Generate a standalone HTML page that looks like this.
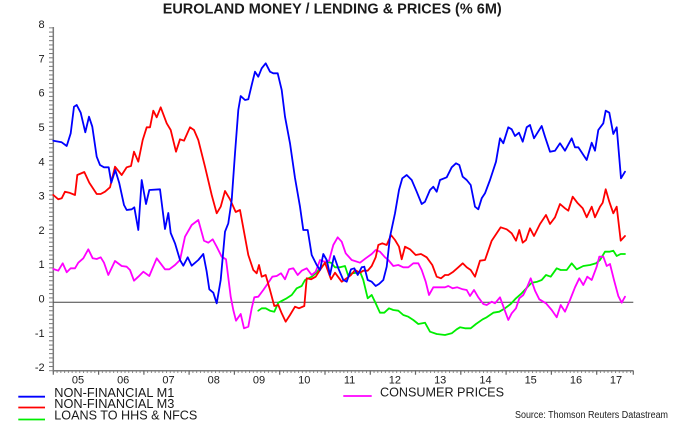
<!DOCTYPE html>
<html>
<head>
<meta charset="utf-8">
<style>
html,body{margin:0;padding:0;background:#fff;}
svg{display:block;}
text{font-family:"Liberation Sans",Arial,sans-serif;fill:#1a1a1a;}
</style>
</head>
<body>
<svg width="680" height="425" viewBox="0 0 680 425" xmlns="http://www.w3.org/2000/svg">
<defs>
<pattern id="yt" x="0" y="27.3" width="10" height="4.2875" patternUnits="userSpaceOnUse"><rect x="0" y="0" width="10" height="1" fill="#777"/></pattern>
<pattern id="xt" x="52.8" y="0" width="3.7733" height="10" patternUnits="userSpaceOnUse"><rect x="0" y="0" width="1" height="10" fill="#888"/></pattern>
</defs>
<rect width="680" height="425" fill="#fff"/>

<!-- Title -->
<text x="162.7" y="13.5" font-size="14.5" font-weight="bold" textLength="339" lengthAdjust="spacingAndGlyphs">EUROLAND MONEY / LENDING &amp; PRICES (% 6M)</text>

<!-- Y axis -->
<rect x="49" y="27.3" width="4" height="344" fill="url(#yt)"/>
<line x1="53.3" y1="27" x2="53.3" y2="371.5" stroke="#7a7a7a" stroke-width="1.5"/>
<g font-size="11" text-anchor="end">
<text x="44.6" y="28.1">8</text>
<text x="44.6" y="62.4">7</text>
<text x="44.6" y="96.7">6</text>
<text x="44.6" y="131">5</text>
<text x="44.6" y="165.3">4</text>
<text x="44.6" y="199.6">3</text>
<text x="44.6" y="233.9">2</text>
<text x="44.6" y="268.2">1</text>
<text x="44.6" y="302.7">0</text>
<text x="44.6" y="336.8">-1</text>
<text x="44.6" y="371.1">-2</text>
</g>

<!-- X axis -->
<rect x="52.8" y="370.7" width="581" height="2.3" fill="url(#xt)"/>
<line x1="53" y1="370.7" x2="633.5" y2="370.7" stroke="#7a7a7a" stroke-width="1.5"/>
<path d="M53.3 370.7v4 M98.6 370.7v4 M143.9 370.7v4 M189.1 370.7v4 M234.4 370.7v4 M279.7 370.7v4 M325 370.7v4 M370.3 370.7v4 M415.5 370.7v4 M460.8 370.7v4 M506.1 370.7v4 M551.4 370.7v4 M596.7 370.7v4 M633.3 370.7v4" stroke="#666" stroke-width="1.2"/>
<g font-size="11" text-anchor="middle">
<text x="78" y="383.6">05</text>
<text x="123.2" y="383.6">06</text>
<text x="168.5" y="383.6">07</text>
<text x="213.8" y="383.6">08</text>
<text x="259" y="383.6">09</text>
<text x="304.3" y="383.6">10</text>
<text x="349.6" y="383.6">11</text>
<text x="394.9" y="383.6">12</text>
<text x="440.2" y="383.6">13</text>
<text x="485.5" y="383.6">14</text>
<text x="530.7" y="383.6">15</text>
<text x="576" y="383.6">16</text>
<text x="616" y="383.6">17</text>
</g>

<!-- zero line -->
<line x1="53.3" y1="302.2" x2="633.3" y2="302.2" stroke="#444" stroke-width="1"/>

<g fill="none" stroke-width="1.8" stroke-linejoin="round" stroke-linecap="round">
<!-- Green: loans -->
<polyline stroke="#00ee00" points="258.3,310.7 261.7,308.3 265.7,308.3 270,310.7 274.3,311.7 278.3,302.7 286.7,298.3 291.7,295 296.7,288.3 301.7,286 305,280 311.7,276.7 315.7,273.3 321,267.3 326.7,261.7 331,262.7 335,267.3 340,267.3 345,266 348.3,276 351.7,273.3 356.7,272.7 360,271.7 363.3,280 367.7,298.3 371.7,295 375.7,303.3 380,312.7 384.3,312.7 389,308.3 393.3,310 398.3,310.7 403.3,315 408.3,316.7 413.3,320 418.3,324 425,322.7 430,331.7 436.7,334 445,335 451.7,333.3 456.7,329.3 460,327.3 465,328.3 470.7,328.3 476,324 482.7,319.3 486.7,317.3 493.3,312.7 499.3,311.7 505,308.3 510.7,304 516,298.3 521.7,293.3 527.3,287.3 531.7,282.7 537.3,281.7 541.7,280 546,275 550.7,276.7 556.7,268.3 560.7,270 566.7,270 571.7,263.3 576.7,269.3 583.3,266 590,265 596,263.3 600,260 605,251.7 609.3,251.7 613.3,250.7 616.7,256 620.7,254 625,254"/>
<!-- Magenta: CPI -->
<polyline stroke="#ff00ff" points="53.3,269 58.3,270.7 62.7,263.3 66.7,272.3 70.7,268.3 75,268.3 78.3,262.7 83.3,258.3 88.3,249.3 92.7,258.3 96.7,259 100.7,257.3 104,262.7 108.3,275 115,261 121.7,266 126.7,266.7 130,270 134,280.7 138.3,276.7 143.3,271.7 149.3,276 156.7,258.3 165,269.3 169.3,269.3 175,265 180,260 185,236.7 191.7,225 198.3,220 204,240.7 208.3,242.7 212.7,239.3 216.7,246.7 221.7,256.7 226,259.3 230.7,296.7 233.3,310 236,320.7 240.7,314 244,328.3 248.3,326.7 251.7,308.3 254.3,297.3 258.3,296.7 263.3,290 268.3,282.7 272.3,276.7 276.7,276 281,273.3 285,279.3 289,269.3 293.3,268.3 297.7,275 301.7,270.7 306.7,268.3 311.7,275 315.7,271.7 320,260 324.3,261.7 329,260.7 333.3,245 337.7,237.3 341.7,241.7 345.7,253.3 351.7,260 360,262.7 365.7,258.3 371.7,254 375.7,250 380,251.7 385,257.3 388.3,260 393.3,266 398.3,265 403.3,267.3 408.3,267.3 413.3,263.3 418.3,263.3 421.7,270 425.7,281.7 429,295 433.3,287.3 440,287.3 445,287.3 448.3,286 452.7,288.3 457.3,287.3 462.7,289.3 466.7,290 470,296 474,290 478.3,297.3 483.3,304 486.7,305 491.7,301.7 495,303.3 500,297.3 504,308.3 508.3,320 511.7,313.3 516,308.3 519.3,298.3 523.3,295 527.3,286.7 530.7,278.3 535,290.7 539.3,299.3 546,303.3 551.7,310 556.7,317.3 560.7,305 565,311.7 570,300 575,287.3 579.3,278.3 583.3,285 587.3,276.7 591.7,280 596.7,266.7 599.3,256.7 603.3,256.7 606.7,266 610,264 614,280 618.3,296 621.7,302.7 625,296.7"/>
<!-- Red: M3 -->
<polyline stroke="#ff0000" points="53.3,195 58.3,199.3 61.7,198.3 65,191.7 69.3,192.7 75,195 77.3,175 84.3,172 89.3,182.7 96.7,194 100.7,194 105,191.7 110,187.3 115,166.7 121.7,175 126.7,167.3 131,166 134,151.7 138.3,161.7 142.7,140 146.7,127.3 150,127.3 153.3,110.7 156.7,117.3 160.7,107.3 166.7,123.3 170.7,130 176,151.7 180,139.3 184,140.7 190,127.3 194,130 198.3,140 205,166.7 211.7,195 216.7,213.3 220.7,206.7 225,191 230,199.3 235.7,212 240,210 244,231.7 248.3,255 253.3,270 256.7,273.3 259,265 261.7,276.7 265.7,275 270,290 274.3,306 278.3,305 281.7,313.3 285.7,321.7 290,315 295,306.7 299,308.3 304.3,306 306.7,278.3 311,279.3 315.7,276.7 320,270 325,262.7 331,279.3 335,272.7 341.7,281.7 346.7,278.3 351,275 355,270 360,272.7 363.3,270.7 367.7,270.7 371.7,266 375.7,257.3 378.3,245 382.3,243.3 386.7,245 391,235 395,240 399,246.7 401.7,259.3 405,246.7 410,249.3 415.7,255 421,254 426.7,257.3 432.3,265 436.7,276.7 441,278.3 445,275 448.3,275 453.3,271.7 458.3,267.3 462.7,263.3 466.7,267.3 470.7,270 475,276.7 480,260.7 485,260 491.7,240.7 496.7,233.3 500.7,227.3 506.7,229.3 511.7,233.3 516,240.7 519.3,230 522.7,242.7 526,240 530,228.3 534,236 540,224 546,215 550,224 555,217.3 560,204 565,208.3 568.3,210.7 572.7,196.7 577.3,202.7 582.7,208.3 586.7,217.3 591.7,206.7 595,217.3 600,206.7 602.7,202.7 605.7,189.3 609.3,201.7 613.3,213.3 616.7,206.7 620.7,240.7 625,236"/>
<!-- Blue: M1 -->
<polyline stroke="#0000ff" points="53.3,140.7 61.7,142.3 66.7,146 70.7,133.3 74,106.7 76.7,105 80.7,112.7 85.3,132.3 89,116.7 92.3,126.7 96.7,156.7 100,165 104,167.3 108.7,167.3 111.3,182.7 115.3,170 119.3,183.3 124,205 126.7,210 131.7,209.3 134.3,207.3 138.3,230 141.7,180 146,204 149.3,190 160,189.3 165,229 168.3,213 170.7,233 175,243.3 180,260 183.3,265.7 187.7,257.3 191.7,265.7 198.3,260 203.3,254 206.7,271.7 209.3,289.3 213.3,292.7 216.7,303.3 220.7,280 225,231.7 228.3,223.3 231.7,200 235,153.3 238.3,110 240.7,96 245,100 248.3,99.3 251.7,85 255,71.7 258.3,76.7 261.7,68.3 265.7,63.3 270,71.7 273.3,73.3 277.7,73.3 281.7,90 285,116.7 290,143.3 295,178 300,206.7 303.3,230 307.7,230 311.7,255 316.7,265 320,270 323.3,254 326.7,260 330,275 334,256 338.3,268.3 343.3,280 346.7,281.7 351,269.3 354.3,268.3 357.7,275 361.7,267.3 364.3,266.7 367.7,280 371.7,281.7 375.7,286 379,284 383.3,280 386.7,266.7 390,236.7 395,213.3 399,190 402.3,178.3 406.7,175 411.7,180 416.7,191.7 421.7,204 425,201.7 430,190 433.3,186.7 436.7,191.7 440,180 446.7,177.3 451.7,167.3 456,163.3 459.3,165 462.7,176.7 466.7,180 470.7,185 475,206.7 478.3,209.3 481.7,198.3 485,193.3 490,180 496,161.7 500,138.3 503.3,143.3 508.3,127.3 511.7,129.3 515,136 519,132.7 522.7,141.7 526.7,127.3 530,125 534,138.3 541.7,126 545,136.7 550,151.7 555,150.7 560,143.3 565,150.7 571.7,138.3 575,147.3 578.3,147.3 586.7,160 591.7,142.7 595,150.7 598.3,130 603.3,123.3 605.7,110.7 609.3,112.7 613.3,134 616.7,127.3 621,178.3 625,171.7"/>
</g>

<!-- Legend -->
<g stroke-width="1.8">
<line x1="18.3" y1="396.7" x2="45" y2="396.7" stroke="#0000ff"/>
<line x1="18.3" y1="407.5" x2="45" y2="407.5" stroke="#ff0000"/>
<line x1="18.3" y1="419.5" x2="45" y2="419.5" stroke="#00ee00"/>
<line x1="343.3" y1="396" x2="371.7" y2="396" stroke="#ff00ff"/>
</g>
<g font-size="12.7">
<text x="54.3" y="397" textLength="120" lengthAdjust="spacingAndGlyphs">NON-FINANCIAL M1</text>
<text x="54.3" y="408.2" textLength="120" lengthAdjust="spacingAndGlyphs">NON-FINANCIAL M3</text>
<text x="54.3" y="419.3" textLength="143" lengthAdjust="spacingAndGlyphs">LOANS TO HHS &amp; NFCS</text>
<text x="380" y="396.7" textLength="124" lengthAdjust="spacingAndGlyphs">CONSUMER PRICES</text>
</g>
<text x="515" y="417.8" font-size="9.8" textLength="153" lengthAdjust="spacingAndGlyphs" fill="#222">Source: Thomson Reuters Datastream</text>
</svg>
</body>
</html>
